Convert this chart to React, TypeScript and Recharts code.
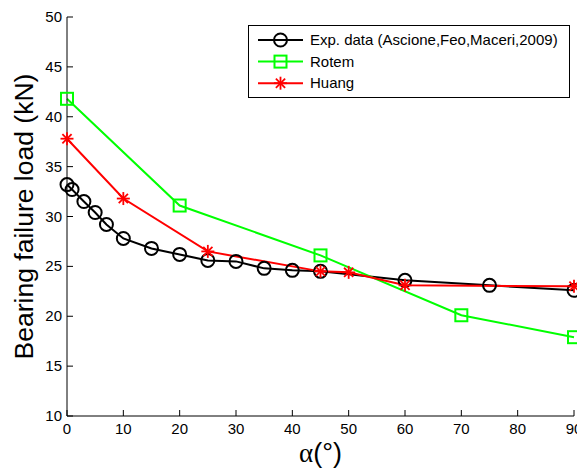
import React from "react";
import { LineChart, Line, XAxis, YAxis } from "recharts";

// angle (deg) vs bearing failure load (kN)
const expAngle = [0, 0.9, 3, 5, 7, 10, 15, 20, 25, 30, 35, 40, 45, 60, 75, 90];
const expLoad = [33.2, 32.7, 31.5, 30.4, 29.2, 27.8, 26.8, 26.2, 25.6, 25.5, 24.8, 24.6, 24.5, 23.6, 23.1, 22.6];
const rotemAngle = [0, 20, 45, 70, 90];
const rotemLoad = [41.8, 31.1, 26.1, 20.1, 17.9];
const huangAngle = [0, 10, 25, 45, 50, 60, 90];
const huangLoad = [37.8, 31.8, 26.5, 24.5, 24.4, 23.1, 23.0];

const xTicks = [0, 10, 20, 30, 40, 50, 60, 70, 80, 90];
const yTicks = [10, 15, 20, 25, 30, 35, 40, 45, 50];

const seriesNames = ["Exp. data (Ascione,Feo,Maceri,2009)", "Rotem", "Huang"];

const FONT = "'Liberation Sans', Arial, sans-serif";
const TICK_LEN = 6;

const zip = (xs: number[], ys: number[]) => xs.map((x, i) => ({ x, y: ys[i] }));
const expData = zip(expAngle, expLoad);
const rotemData = zip(rotemAngle, rotemLoad);
const huangData = zip(huangAngle, huangLoad);

const CircleMark = ({ cx, cy }: { cx: number; cy: number }) => (
  <circle cx={cx} cy={cy} r={6.5} fill="none" stroke="#000" strokeWidth={2} />
);
const SquareMark = ({ cx, cy }: { cx: number; cy: number }) => (
  <rect x={cx - 6} y={cy - 6} width={12} height={12} fill="none" stroke="#00FF00" strokeWidth={2} />
);
const StarMark = ({ cx, cy }: { cx: number; cy: number }) => {
  const r = 6.5;
  const d = 4.6;
  return (
    <g stroke="#FF0000" strokeWidth={1.8}>
      <line x1={cx - r} y1={cy} x2={cx + r} y2={cy} />
      <line x1={cx} y1={cy - r} x2={cx} y2={cy + r} />
      <line x1={cx - d} y1={cy - d} x2={cx + d} y2={cy + d} />
      <line x1={cx - d} y1={cy + d} x2={cx + d} y2={cy - d} />
    </g>
  );
};

const markers = [CircleMark, SquareMark, StarMark];
const colors = ["#000000", "#00FF00", "#FF0000"];

const BottomTick = (p: any) => (
  <g>
    <line x1={p.x} x2={p.x} y1={p.y - 5} y2={p.y - 5 - TICK_LEN} stroke="#000" />
    <text x={p.x} y={p.y} dy={13} textAnchor="middle" fontSize={15} fontFamily={FONT} fill="#000">
      {p.payload.value}
    </text>
  </g>
);
const TopTick = (p: any) => (
  <line x1={p.x} x2={p.x} y1={p.y} y2={p.y + TICK_LEN} stroke="#000" />
);
const LeftTick = (p: any) => (
  <g>
    <line x1={p.x + 5} x2={p.x + 5 + TICK_LEN} y1={p.y} y2={p.y} stroke="#000" />
    <text x={p.x} y={p.y} dy={5} textAnchor="end" fontSize={15} fontFamily={FONT} fill="#000">
      {p.payload.value}
    </text>
  </g>
);
const RightTick = (p: any) => (
  <line x1={p.x} x2={p.x - TICK_LEN} y1={p.y} y2={p.y} stroke="#000" />
);

function LegendBox() {
  return (
    <svg
      width={322}
      height={73}
      style={{ position: "absolute", left: 248, top: 25, background: "#fff" }}
    >
      <rect x={0.5} y={0.5} width={321} height={72} fill="#fff" stroke="#000" />
      {seriesNames.map((name, i) => {
        const cy = 15 + i * 21.6;
        const Mark = markers[i];
        return (
          <g key={name}>
            <line x1={10} x2={55} y1={cy} y2={cy} stroke={colors[i]} strokeWidth={2} />
            <Mark cx={32.5} cy={cy} />
            <text x={62} y={cy + 5} fontSize={15} fontFamily={FONT} fill="#000">
              {name}
            </text>
          </g>
        );
      })}
    </svg>
  );
}

export default function App() {
  return (
    <div style={{ position: "absolute", left: 0, top: 0, width: 577, height: 469, background: "#fff" }}>
      <LineChart width={577} height={469} margin={{ top: 17, right: 3, left: 7, bottom: 0 }}>
        <XAxis
          xAxisId={0}
          type="number"
          dataKey="x"
          domain={[0, 90]}
          ticks={xTicks}
          interval={0}
          height={53}
          tickSize={0}
          tickMargin={5}
          tick={<BottomTick />}
          stroke="#000"
          label={{
            content: (props: any) => {
              const vb = props.viewBox;
              return (
                <text x={vb.x + vb.width / 2} y={vb.y + 46} textAnchor="middle" fontSize={27} fontFamily={FONT}>
                  <tspan fontFamily="'Liberation Serif', serif">α</tspan>(°)
                </text>
              );
            },
          }}
        />
        <XAxis
          xAxisId="top"
          orientation="top"
          type="number"
          dataKey="x"
          domain={[0, 90]}
          ticks={xTicks}
          interval={0}
          height={0}
          tickSize={0}
          tickMargin={0}
          tick={<TopTick />}
          stroke="#000"
        />
        <YAxis
          yAxisId={0}
          type="number"
          domain={[10, 50]}
          ticks={yTicks}
          interval={0}
          width={60}
          tickSize={0}
          tickMargin={5}
          tick={<LeftTick />}
          stroke="#000"
          label={{
            content: (props: any) => {
              const vb = props.viewBox;
              const cx = 33;
              const cy = vb.y + vb.height / 2;
              return (
                <text
                  x={cx}
                  y={cy}
                  textAnchor="middle"
                  fontSize={26.5}
                  fontFamily={FONT}
                  transform={`rotate(-90, ${cx}, ${cy})`}
                >
                  Bearing failure load (kN)
                </text>
              );
            },
          }}
        />
        <YAxis
          yAxisId="right"
          orientation="right"
          type="number"
          domain={[10, 50]}
          ticks={yTicks}
          interval={0}
          width={0}
          tickSize={0}
          tickMargin={0}
          tick={<RightTick />}
          stroke="#000"
        />
        <Line
          data={expData}
          dataKey="y"
          name={seriesNames[0]}
          stroke="#000"
          strokeWidth={2}
          isAnimationActive={false}
          dot={(p: any) => <CircleMark key={`e${p.index}`} cx={p.cx} cy={p.cy} />}
        />
        <Line
          data={rotemData}
          dataKey="y"
          name={seriesNames[1]}
          stroke="#00FF00"
          strokeWidth={2}
          isAnimationActive={false}
          dot={(p: any) => <SquareMark key={`r${p.index}`} cx={p.cx} cy={p.cy} />}
        />
        <Line
          data={huangData}
          dataKey="y"
          name={seriesNames[2]}
          stroke="#FF0000"
          strokeWidth={2}
          isAnimationActive={false}
          dot={(p: any) => <StarMark key={`h${p.index}`} cx={p.cx} cy={p.cy} />}
        />
      </LineChart>
      <LegendBox />
    </div>
  );
}
